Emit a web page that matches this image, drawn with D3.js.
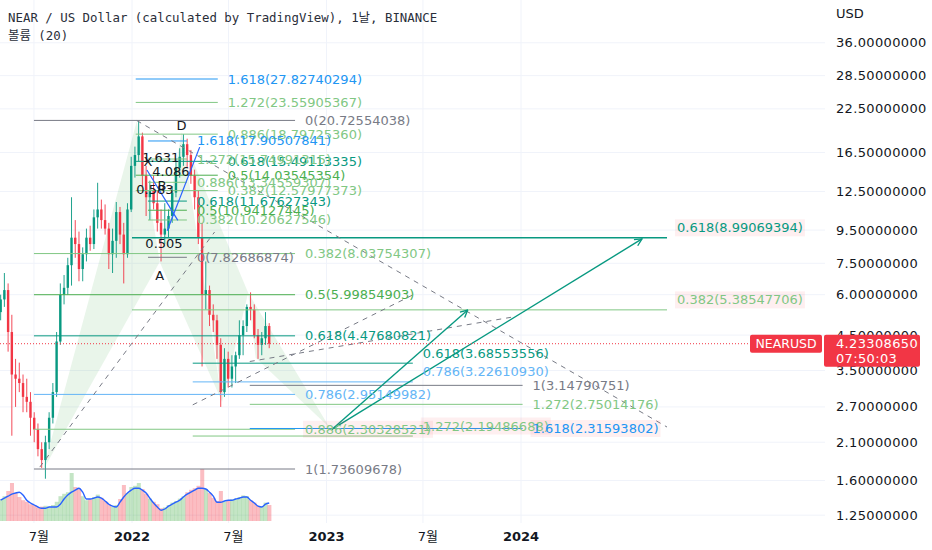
<!DOCTYPE html>
<html><head><meta charset="utf-8">
<script src="https://cdn.jsdelivr.net/npm/d3@7"></script>
<style>html,body{margin:0;padding:0;background:#fff;}svg{display:block;}</style>
</head><body>
<svg id="chart" width="932" height="550"></svg>
<script>
// ---------- DATA ----------
const weeks = ["2021-04-26","2021-05-03","2021-05-10","2021-05-17","2021-05-24","2021-05-31","2021-06-07","2021-06-14","2021-06-21","2021-06-28","2021-07-05","2021-07-12","2021-07-19","2021-07-26","2021-08-02","2021-08-09","2021-08-16","2021-08-23","2021-08-30","2021-09-06","2021-09-13","2021-09-20","2021-09-27","2021-10-04","2021-10-11","2021-10-18","2021-10-25","2021-11-01","2021-11-08","2021-11-15","2021-11-22","2021-11-29","2021-12-06","2021-12-13","2021-12-20","2021-12-27","2022-01-03","2022-01-10","2022-01-17","2022-01-24","2022-01-31","2022-02-07","2022-02-14","2022-02-21","2022-02-28","2022-03-07","2022-03-14","2022-03-21","2022-03-28","2022-04-04","2022-04-11","2022-04-18","2022-04-25","2022-05-02","2022-05-09","2022-05-16","2022-05-23","2022-05-30","2022-06-06","2022-06-13","2022-06-20","2022-06-27","2022-07-04","2022-07-11","2022-07-18","2022-07-25","2022-08-01","2022-08-08","2022-08-15","2022-08-22","2022-08-29","2022-09-05","2022-09-12"];
const opens  = [5.3,5.8,6.2,4.6,3.4,3.3,3.2,2.9,2.8,2.5,2.3,2.0,1.85,2.1,2.5,3.0,4.3,6.0,6.3,7.4,9.0,8.6,7.2,8.0,9.0,8.6,10.4,11.0,10.2,9.6,8.0,8.8,10.8,9.2,8.0,11.0,15.0,16.2,18.5,14.0,12.0,12.6,11.5,10.0,9.2,9.6,10.5,12.4,14.8,16.0,17.5,16.2,14.0,12.0,9.0,6.0,6.2,5.2,5.0,4.2,3.0,3.8,3.3,3.6,3.9,4.5,4.8,5.5,5.4,4.5,4.2,4.4,4.8];
const highs  = [6.0,7.0,6.5,5.2,3.8,3.7,3.4,3.3,3.0,2.6,2.4,2.1,2.2,2.6,3.2,4.6,6.5,6.9,7.8,12.0,10.2,9.4,8.4,9.6,9.8,11.0,13.3,11.8,11.4,10.0,9.6,11.6,11.2,10.0,11.5,16.0,17.2,20.7,19.0,15.0,13.5,14.0,12.6,11.0,11.5,11.0,13.0,15.8,17.0,18.8,18.2,16.8,14.6,12.6,10.0,7.6,6.4,5.6,5.2,4.4,4.1,4.0,3.9,4.0,5.0,5.0,5.6,6.1,5.6,4.7,4.6,5.3,4.9];
const lows   = [5.0,5.5,4.0,2.2,2.7,3.0,2.6,2.6,2.2,2.1,1.9,1.75,1.62,2.0,2.4,2.9,4.2,5.6,6.0,6.4,7.8,6.6,6.6,7.6,8.2,8.3,9.6,9.6,9.2,7.2,7.0,7.8,8.6,6.5,7.8,10.8,13.8,15.5,13.0,10.5,10.2,11.0,9.4,7.6,8.6,9.0,10.0,12.0,13.8,15.0,14.8,13.2,11.0,8.6,3.6,5.4,4.8,4.6,3.8,2.7,2.9,3.1,3.1,3.2,3.8,3.9,4.6,5.0,4.4,3.8,3.9,4.2,4.1];
const closes = [5.8,6.2,4.6,3.4,3.3,3.2,2.9,2.8,2.5,2.3,2.0,1.85,2.1,2.5,3.0,4.3,6.0,6.3,7.4,9.0,8.6,7.2,8.0,9.0,8.6,10.4,11.0,10.2,9.6,8.0,8.8,10.8,9.2,8.0,11.0,15.0,16.2,18.5,14.0,12.0,12.6,11.5,10.0,9.2,9.6,10.5,12.4,14.8,16.0,17.5,16.2,14.0,12.0,9.0,6.0,6.2,5.2,5.0,4.2,3.0,3.8,3.3,3.6,3.9,4.5,4.8,5.5,5.4,4.5,4.2,4.4,4.8,4.2330865];
const volumes = [55,62,75,95,70,60,52,48,42,40,34,36,38,36,40,48,62,68,72,120,85,80,62,52,55,60,66,58,50,42,36,40,55,90,70,85,88,95,80,68,56,48,42,32,34,40,46,50,56,62,72,78,82,88,130,80,70,58,50,75,48,52,54,56,60,64,62,52,46,38,36,46,40];
const volumeMA = [52,57,62,67,70,72,65,52,45,40,35,32,32,35,35,35,42,55,65,72,77,82,72,55,55,57,60,57,50,42,37,35,47,60,70,77,82,82,77,70,57,45,35,27,30,37,42,47,52,60,67,72,77,82,82,80,72,62,47,47,50,52,52,55,57,60,60,52,45,37,35,42,45];

const priceTicks = [36,28.5,22.5,16.5,12.5,9.5,7.5,6,4.5,3.5,2.7,2.1,1.6,1.25];
const timeTicks = [["2021-07-01","7월",false],["2022-01-01","2022",true],["2022-07-01","7월",false],["2023-01-01","2023",true],["2023-07-01","7월",false],["2024-01-01","2024",true]];
const lastPrice = 4.2330865;

// Fibonacci tools: [start, end, labelPlacement, levels [ratio, price, highlighted]]
const fibTools = [
  ["2022-01-08","2022-06-11","mid",[["1.618",27.82740294],["1.272",23.55905367],["0.886",18.79725360],["0.618",15.49113335],["0.5",14.03545354],["0.382",12.57977373]]],
  ["2022-01-31","2022-04-14","mid",[["1.618",17.90507841],["1.272",15.74991315],["0.886",13.34559307],["0.618",11.67627343],["0.5",10.94127445],["0.382",10.20627546],["0",7.82686874]]],
  ["2021-07-01","2022-11-03","mid",[["0",20.72554038],["0.382",8.03754307],["0.5",5.99854903],["0.618",4.47680821],["0.786",2.95149982],["0.886",2.30328521,true],["1",1.73609678]]],
  ["2022-01-01","2024-10-01","top",[["0.618",8.99069394,true],["0.382",5.38547706,true]]],
  ["2022-04-25","2023-06-12","top",[["0.618",3.68553556],["0.786",3.22610930],["1.272",2.19486688,true]]],
  ["2022-08-10","2024-01-04","mid",[["1",3.14790751],["1.272",2.75014176],["1.618",2.31593802,true]]]
];
// harmonic pattern points (date, price)
const patternOne = [["2021-07-18",1.72],["2022-01-10",20.6],["2022-02-22",7.57],["2022-04-04",19.1],["2022-06-19",2.80]];
const patternTwo = [["2022-04-22",16.0],["2022-06-19",2.80],["2022-08-07",6.08],["2022-08-21",3.83],["2023-01-07",2.33]];
const patternLabels = [["X","2022-01-31",15.42],["1.631","2022-02-24",15.87],["4.086","2022-03-15",14.36],["0.583","2022-02-13",12.64],["B","2022-02-26",13.09],["0.505","2022-03-02",8.61],["A","2022-02-22",6.90],["D","2022-04-04",19.92]];
const dashedLines = [[["2022-01-10",20.7],["2024-10-01",2.34]],[["2021-07-12",1.76],["2022-06-05",9.37]],[["2022-04-25",2.74],["2023-06-12",5.99]],[["2022-08-10",3.73],["2023-12-17",5.12]]];
const blueLegs = [[["2022-01-29",14.57],["2022-03-28",10.18]],[["2022-03-08",9.46],["2022-05-08",17.14]]];
const arrows = [[["2023-01-11",2.30],["2023-09-23",5.38]],[["2023-01-11",2.30],["2024-08-15",8.92]]];

// ---------- DRAW ----------
const parse = d3.utcParse("%Y-%m-%d");
const svg = d3.select("#chart");
const PW = 825;
const x = d3.scaleTime().domain([parse("2022-01-01"), parse("2024-01-01")]).range([132, 521]);
const y = d3.scaleLog().domain([27.82740294, 1.73609678]).range([79, 469]);
const yv = d3.scaleLinear().domain([0, 100]).range([521, 481]);
const F = "'DejaVu Sans', 'Noto Sans CJK KR', sans-serif";
const pt = p => [x(parse(p[0])), y(p[1])];

svg.append("rect").attr("width",932).attr("height",550).attr("fill","#fff");
svg.append("defs").append("clipPath").attr("id","clip").append("rect").attr("width",PW).attr("height",523);
const plot = svg.append("g").attr("clip-path","url(#clip)");

// grid
plot.selectAll(".hg").data(priceTicks).join("line")
  .attr("x1",0).attr("x2",PW).attr("y1",d=>y(d)).attr("y2",d=>y(d))
  .attr("stroke","#f0f3fa").attr("stroke-width",1);
plot.selectAll(".vg").data(timeTicks).join("line")
  .attr("x1",d=>x(parse(d[0]))).attr("x2",d=>x(parse(d[0]))).attr("y1",0).attr("y2",523)
  .attr("stroke","#f0f3fa").attr("stroke-width",1);

// pattern fills
function tri(pts){ return "M"+pts.map(p=>pt(p).join(",")).join("L")+"Z"; }
[patternOne, patternTwo].forEach(p=>{
  plot.append("path").attr("d",tri([p[0],p[1],p[2]])).attr("fill","#4caf50").attr("fill-opacity",0.12);
  plot.append("path").attr("d",tri([p[2],p[3],p[4]])).attr("fill","#4caf50").attr("fill-opacity",0.12);
});

// volume
const band = x(parse("2022-01-08"))-x(parse("2022-01-01"));
plot.selectAll(".vol").data(weeks).join("rect")
  .attr("x",(d)=>x(parse(d))).attr("width",band+0.3)
  .attr("y",(d,i)=>yv(volumes[i])).attr("height",(d,i)=>yv(0)-yv(volumes[i]))
  .attr("fill",(d,i)=>closes[i]>=opens[i]?"#4caf50":"#f23645").attr("fill-opacity",0.33);
plot.append("path").datum(weeks).attr("fill","none").attr("stroke","#2962ff").attr("stroke-width",1.4)
  .attr("d",d3.line().x(d=>x(parse(d))+band/2).y((d,i)=>yv(volumeMA[i])).curve(d3.curveMonotoneX));

// candles
const cg = plot.append("g");
weeks.forEach((w,i)=>{
  const cx = x(parse(w))+band/2;
  const up = closes[i]>=opens[i];
  const col = up?"#089981":"#f23645";
  cg.append("line").attr("x1",cx).attr("x2",cx).attr("y1",y(highs[i])).attr("y2",y(lows[i])).attr("stroke",col).attr("stroke-width",0.9);
  const y0 = y(Math.max(opens[i],closes[i])), y1 = y(Math.min(opens[i],closes[i]));
  cg.append("rect").attr("x",cx-1.2).attr("width",2.4).attr("y",y0).attr("height",Math.max(1,y1-y0)).attr("fill",col);
});

// fib lines & labels
const colorOf = r => ({"1.618":"#2196f3","1.272":"#81c784","0.886":"#81c784","0.786":"#64b5f6","0.618":"#089981","0.5":"#4caf50","0.382":"#81c784","0":"#787b86","1":"#787b86"})[r];
const labelLayer = svg.append("g");
fibTools.forEach(([s,e,place,levels])=>{
  const x0 = x(parse(s)), x1 = x(parse(e));
  levels.forEach(([r,p,hl])=>{
    const yy = y(p);
    plot.append("line").attr("x1",x0).attr("x2",x1).attr("y1",yy).attr("y2",yy)
      .attr("stroke",colorOf(r)).attr("stroke-width",(r==="0.618"&&place==="top"&&p>8)?1.6:1);
    const t = labelLayer.append("text").attr("x",x1+10).attr("y",place==="top"?yy-10:yy)
      .attr("dominant-baseline","central").attr("font-family",F).attr("font-size",13)
      .attr("fill",colorOf(r)).text(`${r}(${p.toFixed(8)})`);
    if(hl){
      const b = t.node().getBBox();
      labelLayer.insert("rect","text").attr("x",b.x-2).attr("y",b.y-1).attr("width",b.width+4).attr("height",b.height+2)
        .attr("fill","#f23645").attr("fill-opacity",0.08);
    }
  });
});

// dashed lines
dashedLines.forEach(([a,b])=>{
  plot.append("line").attr("x1",pt(a)[0]).attr("y1",pt(a)[1]).attr("x2",pt(b)[0]).attr("y2",pt(b)[1])
    .attr("stroke","#787b86").attr("stroke-width",1).attr("stroke-dasharray","5,5");
});
// blue ABCD legs
blueLegs.forEach(([a,b])=>{
  plot.append("line").attr("x1",pt(a)[0]).attr("y1",pt(a)[1]).attr("x2",pt(b)[0]).attr("y2",pt(b)[1])
    .attr("stroke","#2962ff").attr("stroke-width",1.2);
});
// arrows
svg.append("defs").append("marker").attr("id","ah").attr("viewBox","0 0 10 10").attr("refX",9).attr("refY",5)
  .attr("markerWidth",9).attr("markerHeight",9).attr("orient","auto").attr("markerUnits","userSpaceOnUse")
  .append("path").attr("d","M1,1L9,5L1,9").attr("fill","none").attr("stroke","#089981").attr("stroke-width",1.5);
arrows.forEach(([a,b])=>{
  plot.append("line").attr("x1",pt(a)[0]).attr("y1",pt(a)[1]).attr("x2",pt(b)[0]).attr("y2",pt(b)[1])
    .attr("stroke","#089981").attr("stroke-width",1.4).attr("marker-end","url(#ah)");
});
// pattern labels
patternLabels.forEach(([t,d,p])=>{
  svg.append("text").attr("x",x(parse(d))).attr("y",y(p)).attr("text-anchor","middle").attr("dominant-baseline","central")
    .attr("font-family",F).attr("font-size",13).attr("fill","#131722").text(t);
});

// last price line
svg.append("line").attr("x1",0).attr("x2",750).attr("y1",y(lastPrice)).attr("y2",y(lastPrice))
  .attr("stroke","#f23645").attr("stroke-width",1).attr("stroke-dasharray","1,2");

// header
const MF = "'DejaVu Sans Mono','Noto Sans CJK KR',monospace";
svg.append("text").attr("x",8).attr("y",22).attr("font-family",MF).attr("font-size",12.4)
  .attr("fill","#2a2e39").text("NEAR / US Dollar (calculated by TradingView), 1날, BINANCE");
svg.append("text").attr("x",8).attr("y",40).attr("font-family",MF).attr("font-size",12.4)
  .attr("fill","#2a2e39").text("볼륨 (20)");

// price axis
const AX = {"font-family":F,"font-size":13,"letter-spacing":0.35};
svg.append("text").attr("x",836).attr("y",18).attr("font-family",F).attr("font-size",13).attr("fill","#131722").text("USD");
svg.selectAll(".pt").data(priceTicks).join("text").attr("x",836).attr("y",d=>y(d)).attr("dominant-baseline","central")
  .attr("font-family",AX["font-family"]).attr("font-size",AX["font-size"]).attr("letter-spacing",AX["letter-spacing"])
  .attr("fill","#131722").text(d=>d.toFixed(8));
// time axis
svg.selectAll(".tt").data(timeTicks).join("text").attr("x",d=>x(parse(d[0]))+(d[2]?0:5)).attr("y",536).attr("text-anchor","middle")
  .attr("dominant-baseline","central").attr("font-family",F).attr("font-size",13).attr("font-weight",d=>d[2]?"bold":"normal")
  .attr("fill","#131722").text(d=>d[1]);

// last price labels
const ly = y(lastPrice);
svg.append("rect").attr("x",750).attr("y",ly-9).attr("width",72).attr("height",18).attr("rx",2).attr("fill","#f23645");
svg.append("text").attr("x",786).attr("y",ly).attr("text-anchor","middle").attr("dominant-baseline","central")
  .attr("font-family",F).attr("font-size",12.5).attr("fill","#fff").text("NEARUSD");
svg.append("rect").attr("x",824).attr("y",ly-9).attr("width",96).attr("height",32).attr("rx",2).attr("fill","#f23645");
svg.append("text").attr("x",836).attr("y",ly).attr("dominant-baseline","central").attr("font-family",F).attr("font-size",13).attr("letter-spacing",0.35).attr("fill","#fff").text(lastPrice.toFixed(8));
svg.append("text").attr("x",836).attr("y",ly+15).attr("dominant-baseline","central").attr("font-family",F).attr("font-size",13).attr("letter-spacing",0.35).attr("fill","#fff").text("07:50:03");
</script>
</body></html>
